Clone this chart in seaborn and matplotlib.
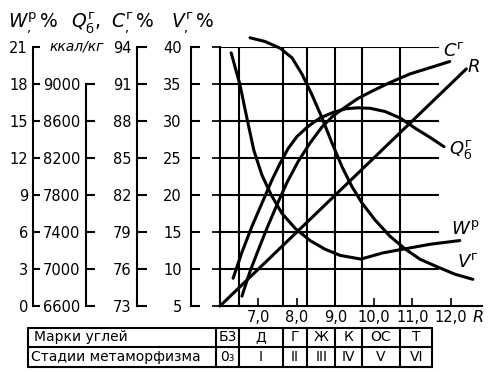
import matplotlib
matplotlib.use("Agg")
import matplotlib.pyplot as plt
import matplotlib.transforms as mtransforms
import seaborn as sns

# === DATA ===
# moisture W^p, %
w_r = [6.29, 6.52, 6.70, 6.88, 7.09, 7.33, 7.61, 7.95, 8.34, 8.73, 9.12, 9.66, 10.23, 10.75, 11.46, 12.23]
w_val = [20.5, 17.9, 15.2, 12.6, 10.6, 9.0, 7.5, 6.3, 5.3, 4.6, 4.1, 3.8, 4.3, 4.6, 5.0, 5.3]

# calorific value Q^г_б, kcal/kg
q_r = [6.34, 6.57, 6.83, 7.09, 7.35, 7.56, 7.77, 8.00, 8.29, 8.60, 8.94, 9.27, 9.58, 9.90, 10.29, 10.68, 11.07, 11.46, 11.82]
q_val = [6900, 7180, 7460, 7710, 7960, 8140, 8300, 8430, 8540, 8630, 8690, 8730, 8740, 8735, 8700, 8630, 8520, 8420, 8320]

# carbon C^г, %
c_r = [6.57, 6.78, 6.99, 7.22, 7.48, 7.74, 8.03, 8.34, 8.65, 8.94, 9.25, 9.58, 9.95, 10.42, 10.94, 11.46, 11.97]
c_val = [73.8, 75.8, 77.5, 79.3, 81.2, 83.0, 84.7, 86.2, 87.5, 88.4, 89.1, 89.8, 90.4, 91.1, 91.8, 92.3, 92.8]

# volatile matter V^г, %
v_r = [6.78, 7.17, 7.56, 7.87, 8.13, 8.39, 8.65, 8.91, 9.17, 9.43, 9.69, 10.03, 10.42, 10.81, 11.20, 11.64, 12.10, 12.57]
v_val = [41.2, 40.7, 39.8, 38.5, 36.3, 33.5, 30.4, 27.0, 23.8, 21.1, 18.9, 16.6, 14.4, 12.7, 11.3, 10.3, 9.3, 8.6]

# reflectance R, drawn against the V scale
r_line_r = [6.0, 12.4]
r_line_v = [5.0, 37.0]

# scales on the left
w_ticks = [0, 3, 6, 9, 12, 15, 18, 21]
q_ticks = [6600, 7000, 7400, 7800, 8200, 8600, 9000]
c_ticks = [73, 76, 79, 82, 85, 88, 91, 94]
v_ticks = [5, 10, 15, 20, 25, 30, 35, 40]
r_ticks = [7, 8, 9, 10, 11, 12]
r_labels = ["7,0", "8,0", "9,0", "10,0", "11,0", "12,0"]

# coal grades / metamorphism stages
stage_edges = [5.9, 6.5, 7.63, 8.27, 9.0, 9.68, 10.68, 11.52]
grades = ["Б3", "Д", "Г", "Ж", "К", "ОС", "Т"]
stages = ["0₃", "I", "II", "III", "IV", "V", "VI"]

sns.set_theme(style="white")
plt.rcParams['font.family'] = ['DejaVu Sans']
plt.rcParams['mathtext.fontset'] = 'dejavusans'
plt.rcParams['text.color'] = 'black'
plt.rcParams['xtick.color'] = 'black'
plt.rcParams['ytick.color'] = 'black'

LW = 2.2
GW = 1.5

fig = plt.figure(figsize=(5, 3.72), dpi=100)
ax = fig.add_axes([0.44, 0.1774, 0.5234, 0.6971])
ax.set_xlim(6.0, 12.8)
ax.set_ylim(5, 40)
ax.patch.set_visible(False)
for s in ['top', 'right']:
    ax.spines[s].set_visible(False)
for s in ['left', 'bottom']:
    ax.spines[s].set_color('black')
    ax.spines[s].set_linewidth(GW)
ax.tick_params(axis='y', left=False, labelleft=False)
ax.set_xticks(r_ticks)
ax.set_xticklabels(r_labels)
ax.tick_params(axis='x', direction='in', length=6, width=1.2, pad=3,
               labelsize=10.5, bottom=True, colors='black')

# grid
ax.hlines(v_ticks[1:], 6.0, 11.7, color='black', lw=GW)
ax.vlines(stage_edges[1:-1], 5, 40, color='black', lw=GW)


def scale_axis(lim, ticks, frac, pad, length, bounds=None):
    t = ax.twinx()
    t.set_ylim(*lim)
    for s in ['top', 'right', 'bottom']:
        t.spines[s].set_visible(False)
    t.spines['left'].set_visible(True)
    t.spines['left'].set_position(('axes', frac))
    t.spines['left'].set_linewidth(GW)
    t.spines['left'].set_color('black')
    if bounds:
        t.spines['left'].set_bounds(*bounds)
    t.yaxis.set_ticks_position('left')
    t.yaxis.set_label_position('left')
    t.set_yticks(ticks)
    t.tick_params(axis='y', direction='in', length=length, width=GW,
                  pad=pad, labelsize=10.5, colors='black')
    t.patch.set_visible(False)
    t.grid(False)
    return t


ax_w = scale_axis((0, 21), w_ticks, -0.7146, 3.6, 5)
ax_q = scale_axis((6600, 9400), q_ticks, -0.512, 4.3, 6.5, bounds=(6600, 9000))
ax_c = scale_axis((73, 94), c_ticks, -0.316, 4.0, 7)
ax_v = scale_axis((5, 40), v_ticks, -0.112, 6.5, 6.5)

# curves
sns.lineplot(x=w_r, y=w_val, ax=ax_w, color='black', linewidth=LW)
sns.lineplot(x=q_r, y=q_val, ax=ax_q, color='black', linewidth=LW)
sns.lineplot(x=c_r, y=c_val, ax=ax_c, color='black', linewidth=LW)
sns.lineplot(x=v_r, y=v_val, ax=ax_v, color='black', linewidth=LW, clip_on=False)
sns.lineplot(x=r_line_r, y=r_line_v, ax=ax_v, color='black', linewidth=LW, clip_on=False)
for a in (ax_w, ax_q, ax_c, ax_v):
    a.set_xlim(6.0, 12.8)
    a.set_xlabel('')
    a.set_ylabel('')


def fx(x):
    return x / 500


def fy(y):
    return 1 - y / 372


# R label at the end of the x axis
fig.text(fx(473), fy(318), "R", style='italic', fontsize=11.5, ha='left', va='center')

# headers
HS = 13.5
fig.text(fx(8), fy(28), r"$W^{\rm р}_{,}\,\%$", fontsize=HS, ha='left', va='baseline')
fig.text(fx(71), fy(28), r"$Q^{\rm г}_{\rm б}$,", fontsize=HS, ha='left', va='baseline')
fig.text(fx(111), fy(28), r"$C^{\rm г}_{,}\,\%$", fontsize=HS, ha='left', va='baseline')
fig.text(fx(171), fy(28), r"$V^{\rm г}_{,}\,\%$", fontsize=HS, ha='left', va='baseline')
fig.text(fx(77), fy(47), "ккал/кг", style='italic', fontsize=10, ha='center', va='center')

# curve labels
fig.text(fx(443), fy(51), r"$C^{\rm г}$", fontsize=13, ha='left', va='center')
fig.text(fx(467), fy(67), r"$R$", fontsize=13, ha='left', va='center')
fig.text(fx(449), fy(150), r"$Q^{\rm г}_{\rm б}$", fontsize=13, ha='left', va='center')
fig.text(fx(451), fy(229), r"$W^{\rm р}$", fontsize=13, ha='left', va='center')
fig.text(fx(457), fy(262), r"$V^{\rm г}$", fontsize=13, ha='left', va='center')

# table below the chart
tax = fig.add_axes([0, fy(366.5), 1, 39 / 372])
tax.axis('off')
tax.set_ylim(0, 2)
trans = mtransforms.blended_transform_factory(ax.transData, tax.transData)
left_r = 1.02
right_r = stage_edges[-1]
for yy in (0, 1, 2):
    tax.plot([left_r, right_r], [yy, yy], color='black', lw=GW, transform=trans, clip_on=False)
for xx in [left_r] + stage_edges:
    tax.plot([xx, xx], [0, 2], color='black', lw=GW, transform=trans, clip_on=False)
tax.text(1.16, 1.5, "Марки углей", fontsize=10, ha='left', va='center', transform=trans)
tax.text(1.10, 0.5, "Стадии метаморфизма", fontsize=10, ha='left', va='center', transform=trans)
for i in range(len(grades)):
    xc = (stage_edges[i] + stage_edges[i + 1]) / 2
    tax.text(xc, 1.5, grades[i], fontsize=10, ha='center', va='center', transform=trans)
    tax.text(xc, 0.5, stages[i], fontsize=10, ha='center', va='center', transform=trans)

fig.savefig("out.png", dpi=100)
